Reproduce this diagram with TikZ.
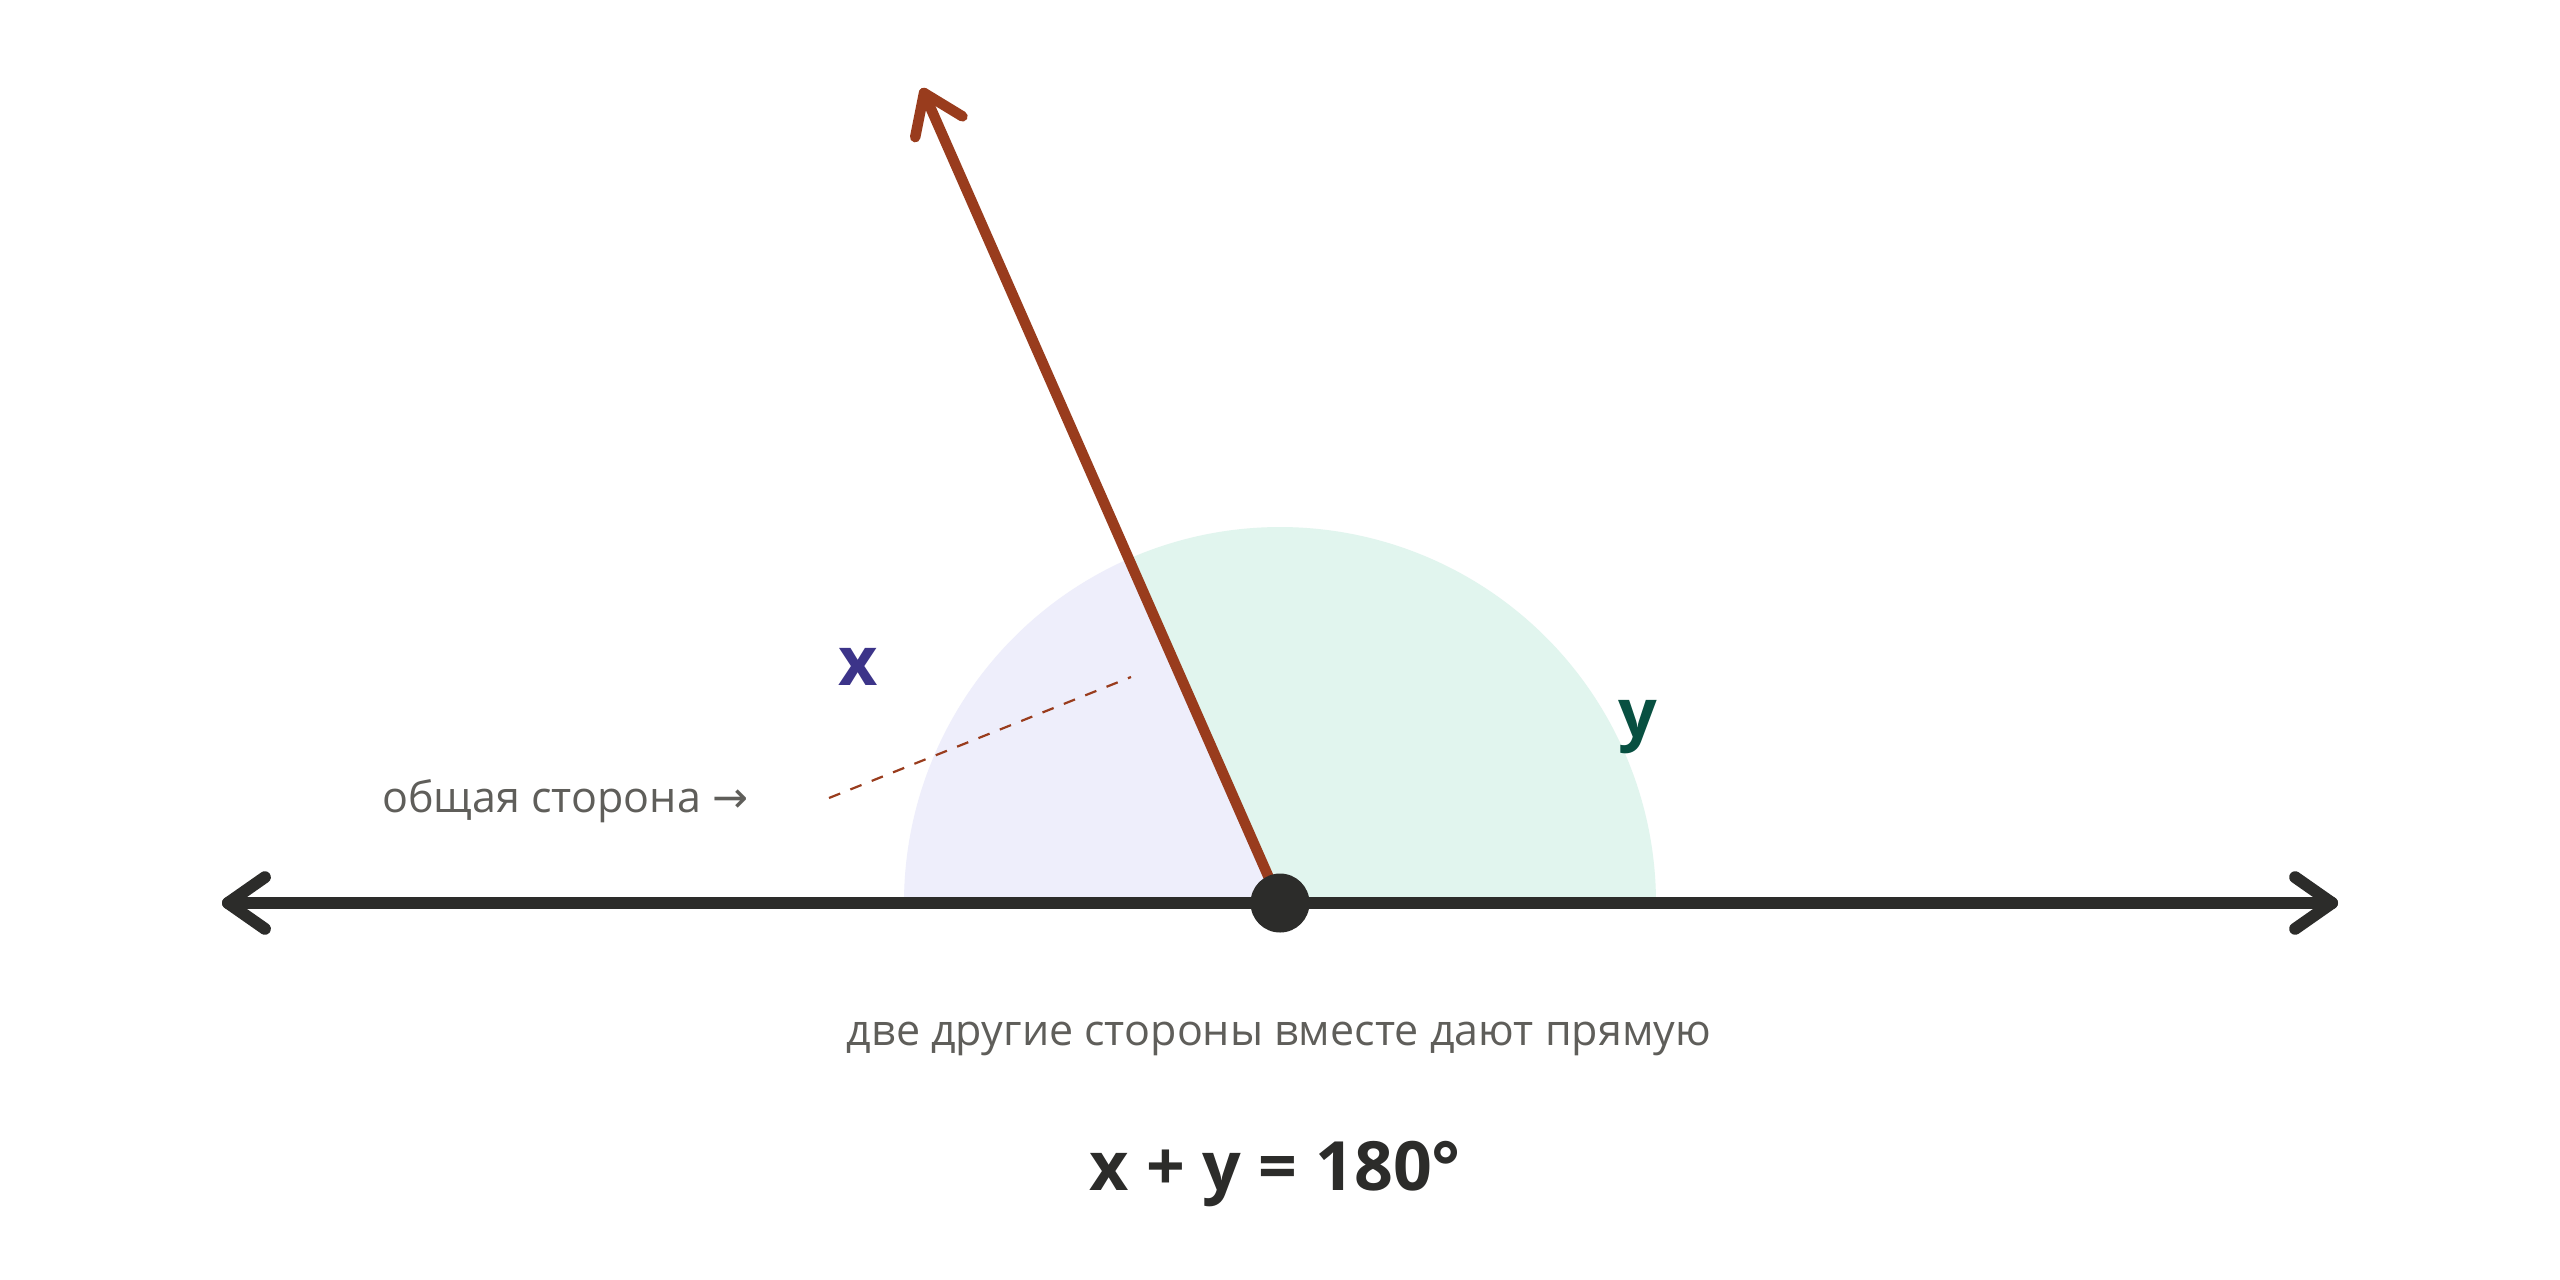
\documentclass[tikz,border=0pt]{standalone}
\usepackage{fontspec}
\setmainfont{Open Sans}
\newfontfamily\arrowfont{DejaVu Sans}
\usetikzlibrary{calc}
\definecolor{inkc}{HTML}{2C2C2A}
\definecolor{rayc}{HTML}{993C1D}
\definecolor{purpfill}{HTML}{EEEEFB}
\definecolor{greenfill}{HTML}{E1F5EE}
\definecolor{xcol}{HTML}{3C3489}
\definecolor{ycol}{HTML}{085041}
\definecolor{grayc}{HTML}{5F5E5A}
\tikzset{
  baseline/.style={draw=inkc, line width=12pt, line cap=round, line join=round},
  raystyle/.style={draw=rayc, line width=10.5pt, line cap=round, line join=round},
  note/.style={text=grayc, inner sep=0pt, font=\fontsize{43}{50}\selectfont},
  anglabel/.style={inner sep=0pt, font=\fontsize{68}{80}\selectfont\bfseries},
  leader/.style={draw=rayc, line width=2.2pt, dash pattern=on 12pt off 11pt},
}
\begin{document}
\begin{tikzpicture}[x=1pt,y=-1pt]
\useasboundingbox (0,0) rectangle (2560,1280);
\fill[white] (0,0) rectangle (2560,1280);
\coordinate (V) at (1280,903);
\coordinate (L) at (228,903);
\coordinate (R) at (2332,903);
\coordinate (T) at (924,93);
\coordinate (D1) at (829,798);
\coordinate (D2) at (1131,677);
% sectors (angles negated because the y axis points down)
\fill[purpfill] (V) -- ++(-180:376) arc[start angle=-180, end angle=-113.7, radius=376] -- cycle;
\fill[greenfill] (V) -- ++(-113.7:376) arc[start angle=-113.7, end angle=0, radius=376] -- cycle;
% leader
\draw[leader] (D1) -- (D2);
% straight line
\draw[baseline] (L) -- (R);
\draw[baseline] ($(L)+(35:45)$) -- (L) -- ($(L)+(-35:45)$);
\draw[baseline] ($(R)+(145:45)$) -- (R) -- ($(R)+(215:45)$);
% ray
\draw[raystyle] (V) -- (T);
\draw[raystyle] ($(T)+(101.3:45)$) -- (T) -- ($(T)+(31.3:45)$);
% vertex
\fill[inkc] (V) circle[radius=29.5];
% labels
\node[anglabel, text=xcol, anchor=base] (xl) at (858,685) {x};
\node[anglabel, text=ycol, anchor=base] (yl) at (1638,737) {y};
\node[note, anchor=base west] (common) at (382,812) {общая сторона {\arrowfont →}};
\node[note, anchor=base] (other) at (1279,1045) {две другие стороны вместе дают прямую};
\node[anchor=base, inner sep=0pt, text=inkc, font=\fontsize{68}{80}\selectfont\bfseries] (eq) at (1275,1190) {x + y = 180°};
\end{tikzpicture}
\end{document}
